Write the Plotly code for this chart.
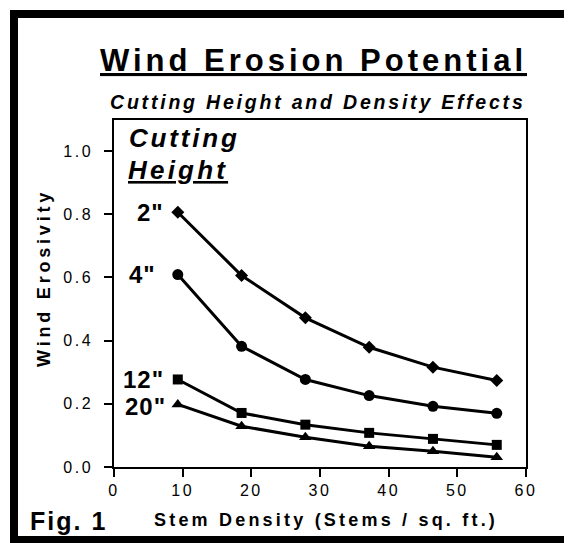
import plotly.graph_objects as go

# ---- data ----
stem_density = [9.29, 18.58, 27.87, 37.16, 46.45, 55.74]
cut_2in = [0.806, 0.606, 0.472, 0.379, 0.316, 0.274]
cut_4in = [0.609, 0.382, 0.277, 0.226, 0.192, 0.170]
cut_12in = [0.277, 0.171, 0.134, 0.108, 0.089, 0.070]
cut_20in = [0.198, 0.129, 0.094, 0.066, 0.050, 0.031]
series_labels = ['2"', '4"', '12"', '20"']
x_ticks = [0, 10, 20, 30, 40, 50, 60]
y_ticks = [0.0, 0.2, 0.4, 0.6, 0.8, 1.0]

# page body has an 8px margin; figure fills the rest of the 572x543 window
OFF = 8
W, H = 572 - OFF, 543 - OFF
L, R, T, B = 114 - OFF, 46, 120 - OFF, 76
PH = H - T - B
PW = W - L - R

def py(pix):  # screen pixel -> paper y
    return (H - B - (pix - OFF)) / PH

def px(pix):  # screen pixel -> paper x
    return ((pix - OFF) - L) / PW

FONT = "Arial, Liberation Sans, Helvetica, sans-serif"

def spaced(text, sp):
    return f'<span style="letter-spacing:{sp}px">{text}</span>'

fig = go.Figure()
series = [
    (cut_2in, "diamond", 10),
    (cut_4in, "circle", 11),
    (cut_12in, "square", 10),
    (cut_20in, "triangle-up", 11),
]
for (vals, sym, sz), lab in zip(series, series_labels):
    fig.add_trace(go.Scatter(
        x=stem_density, y=vals, mode="lines+markers", name=lab,
        line=dict(color="black", width=3),
        marker=dict(symbol=sym, size=sz, color="black"),
        showlegend=False,
    ))

annotations = []
label_shift = [-12, -20, -12, -10]
label_yshift = [0, 0, 0, -2]
for (vals, _, _), lab, xs, ys in zip(series, series_labels, label_shift, label_yshift):
    annotations.append(dict(
        x=stem_density[0], y=vals[0], xref="x", yref="y",
        text=spaced(f"<b>{lab}</b>", 1), showarrow=False,
        xanchor="right", yanchor="middle", xshift=xs, yshift=ys,
        font=dict(family=FONT, size=24, color="black"),
    ))

annotations += [
    dict(x=px(98), y=py(60), xref="paper", yref="paper", xanchor="left", yanchor="middle",
         text=spaced("<b><u>Wind Erosion Potential</u></b>", 4.0), showarrow=False,
         font=dict(family=FONT, size=31, color="black")),
    dict(x=px(108), y=py(102), xref="paper", yref="paper", xanchor="left", yanchor="middle",
         text=spaced("<b><i>Cutting Height and Density Effects</i></b>", 2.8), showarrow=False,
         font=dict(family=FONT, size=19.5, color="black")),
    dict(x=px(127), y=py(138), xref="paper", yref="paper", xanchor="left", yanchor="middle",
         text=spaced("<b><i>Cutting</i></b>", 2.8), showarrow=False,
         font=dict(family=FONT, size=26, color="black")),
    dict(x=px(126), y=py(170), xref="paper", yref="paper", xanchor="left", yanchor="middle",
         text=spaced("<b><i><u>Height</u></i></b>", 3.2), showarrow=False,
         font=dict(family=FONT, size=26, color="black")),
    dict(x=px(44), y=py(278), xref="paper", yref="paper", xanchor="center", yanchor="middle",
         text=spaced("<b>Wind Erosivity</b>", 3.8), showarrow=False, textangle=-90,
         font=dict(family=FONT, size=18, color="black")),
    dict(x=px(326), y=py(520), xref="paper", yref="paper", xanchor="center", yanchor="middle",
         text=spaced("<b>Stem Density (Stems / sq. ft.)</b>", 3.2), showarrow=False,
         font=dict(family=FONT, size=18, color="black")),
    dict(x=px(28), y=py(521), xref="paper", yref="paper", xanchor="left", yanchor="middle",
         text=spaced("<b>Fig. 1</b>", 2), showarrow=False,
         font=dict(family=FONT, size=25, color="black")),
]

fig.update_layout(
    width=W, height=H,
    margin=dict(l=L, r=R, t=T, b=B, pad=0),
    paper_bgcolor="white", plot_bgcolor="white",
    annotations=annotations,
    shapes=[dict(type="rect", xref="paper", yref="paper",
                 x0=px(14), x1=px(568), y0=py(14), y1=py(540),
                 line=dict(color="black", width=8), layer="above")],
    font=dict(family=FONT, color="black"),
)
fig.update_xaxes(
    range=[0, 60], tickvals=x_ticks, ticktext=[spaced(str(v), 2.5) for v in x_ticks],
    showgrid=False, zeroline=False,
    showline=True, linecolor="black", linewidth=1.5, mirror=True,
    ticks="outside", ticklen=8, tickwidth=1.5, tickcolor="black",
    tickfont=dict(family=FONT, size=16, color="black"),
)
fig.update_yaxes(
    range=[0, PH / 316], tickvals=y_ticks, ticktext=[spaced(f"{v:.1f}", 2.5) for v in y_ticks],
    showgrid=False, zeroline=False,
    showline=True, linecolor="black", linewidth=1.5, mirror=True,
    ticks="outside", ticklen=8, tickwidth=1.5, tickcolor="black",
    tickfont=dict(family=FONT, size=16, color="black"),
    ticklabelstandoff=8,
)

fig.write_html("out.html")
